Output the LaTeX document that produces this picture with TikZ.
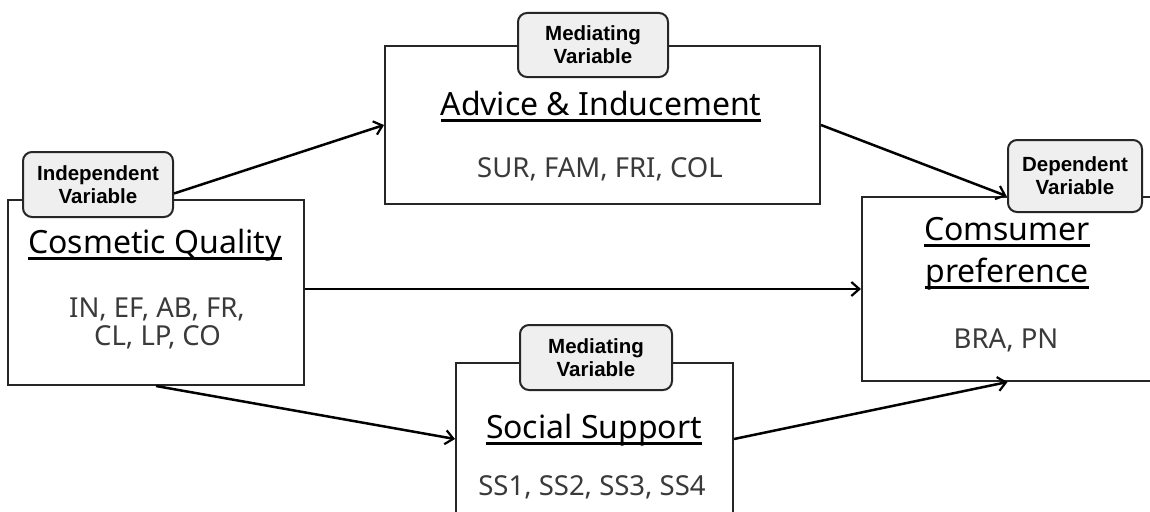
\documentclass[tikz,border=0pt]{standalone}
\usepackage{fontspec}
\setmainfont{Noto Sans}
\newfontfamily\tabfont{Liberation Sans}
\usetikzlibrary{arrows.meta}
\newsavebox\ulbox
\newcommand\ulx[1]{\sbox\ulbox{#1}\rlap{\usebox\ulbox}\rule[-6.5pt]{\wd\ulbox}{2.2pt}}
\definecolor{itemgray}{HTML}{3A3A3A}
\definecolor{tabfill}{HTML}{EFEFEF}
\tikzset{
  box/.style={draw=black!85, line width=2pt, fill=white, inner sep=0pt},
  tab/.style={draw=black!85, line width=2pt, fill=tabfill, rounded corners=9pt,
    inner sep=0pt, align=center, font=\tabfont\bfseries\fontsize{20.5}{23}\selectfont},
  title/.style={anchor=base, inner sep=0pt, font=\fontsize{32}{38}\selectfont},
  items/.style={anchor=base, inner sep=0pt, text=itemgray, font=\fontsize{27.5}{28}\selectfont},
  link/.style={line width=2.5pt, -{Straight Barb[length=8pt,width=14pt,line width=2.2pt]}}
}
\begin{document}
\begin{tikzpicture}[x=1pt,y=-1pt]
\useasboundingbox (0,0) rectangle (1150,511);
\clip (0,0) rectangle (1150,511);
\fill[white] (0,0) rectangle (1150,511);
% boxes
\node[box, minimum width=296pt, minimum height=185pt] (cq) at (156,292.5) {};
\node[box, minimum width=435pt, minimum height=158pt] (adv) at (602.5,125) {};
\node[box, minimum width=291pt, minimum height=184pt] (con) at (1007.5,289) {};
\node[box, minimum width=277pt, minimum height=160pt] (soc) at (594.5,443) {};
% tabs
\node[tab, minimum width=150pt, minimum height=65pt] (cqtab) at (98,184.5) {Independent\\Variable};
\node[tab, minimum width=150pt, minimum height=64pt] (advtab) at (593,45) {Mediating\\Variable};
\node[tab, minimum width=134pt, minimum height=72pt] (contab) at (1075,176) {Dependent\\Variable};
\node[tab, minimum width=152pt, minimum height=65pt] (soctab) at (596,357.5) {Mediating\\Variable};
% connectors
\draw[link] ([yshift=-9pt]cqtab.east) -- (adv.west);
\draw[link] (cq.east |- con.west) -- (con.west);
\draw[link] (cq.south) -- ([yshift=4pt]soc.west);
\draw[link] (adv.east) -- ([xshift=-1pt]con.north);
\draw[link] ([yshift=4pt]soc.east) -- (con.south);
% titles
\node[title] (cqt) at (155,253) {\ulx{Cosmetic Quality}};
\node[title] (advt) at (601,115) {\ulx{Advice \& Inducement}};
\node[title] (cont1) at (1007,240) {\ulx{Comsumer}};
\node[title] (cont2) at (1007,282) {\ulx{preference}};
\node[title] (soct) at (594,438) {\ulx{Social Support}};
% items
\node[items] (cqi1) at (157,317) {IN, EF, AB, FR,};
\node[items] (cqi2) at (157.5,345) {CL, LP, CO};
\node[items] (advi) at (600,177) {SUR, FAM, FRI, COL};
\node[items] (coni) at (1006,348) {BRA, PN};
\node[items] (soci) at (592,495) {SS1, SS2, SS3, SS4};
\end{tikzpicture}
\end{document}
